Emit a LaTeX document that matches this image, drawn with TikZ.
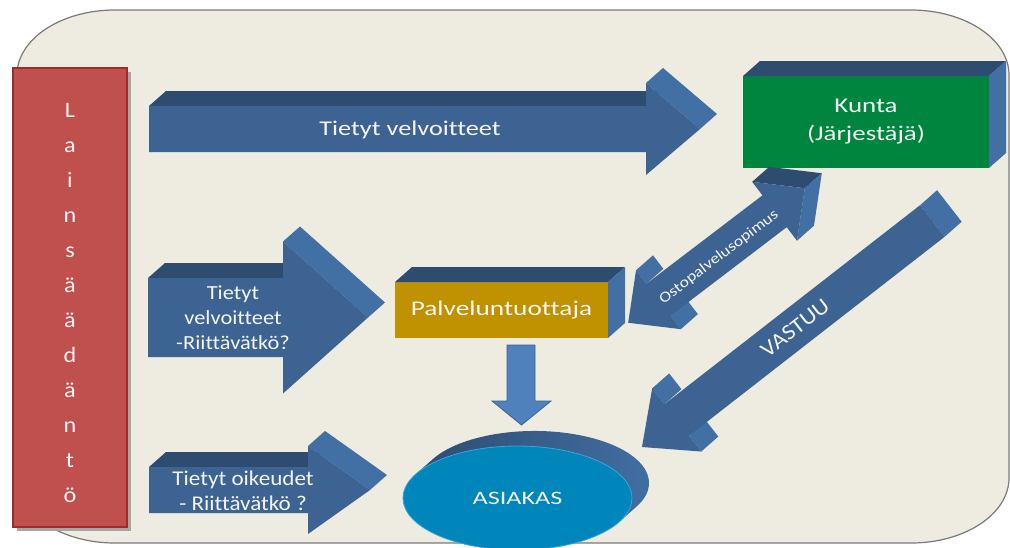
\documentclass[tikz,border=0pt]{standalone}
\usepackage{fontspec}
\setmainfont{Carlito}[Ligatures=NoCommon]
\usetikzlibrary{calc,shapes.geometric}
\definecolor{bgc}{HTML}{EEEBE0}
\definecolor{bordc}{HTML}{7A7A7A}
\definecolor{frontc}{HTML}{3C6391}
\definecolor{topc}{HTML}{2E4C70}
\definecolor{sidec}{HTML}{4270A5}
\definecolor{redc}{HTML}{C0504D}
\definecolor{redl}{HTML}{A02B28}
\definecolor{greenc}{HTML}{00853E}
\definecolor{goldc}{HTML}{C09100}
\definecolor{cyanc}{HTML}{0086BB}
\definecolor{cyanl}{HTML}{33A8DA}
\definecolor{downc}{HTML}{4F81BD}
\definecolor{downl}{HTML}{3A6496}
\definecolor{txt}{HTML}{F4F4F4}
\newcommand\face[3]{\fill[#1] (#2) -- (#3) -- ($(#3)+(17,-15)$) -- ($(#2)+(17,-15)$) -- cycle;}
\newcommand\harrow[7]{%
  \pgfmathsetmacro\yc{(#2+#3)/2}
  \coordinate (#7-a) at (#1,#2);
  \coordinate (#7-b) at (#4,#2);
  \coordinate (#7-c) at (#4,\yc-#5);
  \coordinate (#7-d) at (#6,\yc);
  \coordinate (#7-e) at (#4,\yc+#5);
  \coordinate (#7-f) at (#4,#3);
  \coordinate (#7-g) at (#1,#3);
  \face{topc}{#7-a}{#7-b}
  \face{sidec}{#7-c}{#7-d}
  \fill[frontc] (#7-a) -- (#7-b) -- (#7-c) -- (#7-d) -- (#7-e) -- (#7-f) -- (#7-g) -- cycle;
}
\newcommand\fs[3]{\fontsize{#1}{#2}\selectfont\addfontfeatures{FakeStretch=#3}}
\tikzset{
  lbl/.style={text=txt, align=center, inner sep=0pt},
  letter/.style={text=txt, inner sep=0pt, anchor=base, font=\fs{22}{26}{1.1}},
  boxnode/.style={inner sep=0pt, outer sep=0pt, text=txt, align=center}
}
\begin{document}
\begin{tikzpicture}[x=1pt,y=-1pt]
\useasboundingbox (0,0) rectangle (1010,547);
\clip (0,0) rectangle (1010,547);
% background panel
\draw[bordc, fill=bgc, line width=1.2pt] (115,10) -- (911,10)
  arc[start angle=90, end angle=0, x radius=98pt, y radius=65pt] -- (1009,478)
  arc[start angle=0, end angle=-90, x radius=98pt, y radius=65pt] -- (115,543)
  arc[start angle=-90, end angle=-180, x radius=98pt, y radius=65pt] -- (17,75)
  arc[start angle=180, end angle=90, x radius=98pt, y radius=65pt] -- cycle;
% legislation box
\fill[black!35] (17,72) rectangle (131,531);
\node[draw=redl, fill=redc, line width=1.5pt, minimum width=114pt, minimum height=459pt, inner sep=0pt] (laki) at (70,297.5) {};
\foreach \ch [count=\i from 0] in {L,a,i,n,s,ä,ä,d,ä,n,t,ö}
  \node[letter] (l\i) at (70,117+35*\i) {\ch};
% horizontal 3D arrows
\harrow{149}{106}{152}{646}{46}{700}{a1}
\harrow{148}{278}{357}{283}{76}{368}{a2}
\harrow{149}{467}{513}{308}{44}{370}{a3}
\node[lbl, font=\fs{21}{25}{1.25}] (t1) at (410,130) {Tietyt velvoitteet};
\node[lbl, font=\fs{20}{25}{1.12}] (t2) at (233,318) {Tietyt\\velvoitteet\\-Riittävätkö?};
\node[lbl, font=\fs{21}{25}{1.1}] (t3) at (243,491) {Tietyt oikeudet\\- Riittävätkö ?};
% Kunta box
\node[boxnode, fill=greenc, minimum width=246pt, minimum height=92pt, font=\fs{21}{28}{1.28}] (kunta) at (866,122) {Kunta\\(Järjestäjä)};
\face{topc}{kunta.north west}{kunta.north east}
\face{sidec}{kunta.north east}{kunta.south east}
% Palveluntuottaja box
\node[boxnode, fill=goldc, minimum width=213pt, minimum height=56pt, font=\fs{21}{25}{1.3}] (palv) at (501.5,310) {Palveluntuottaja};
\face{topc}{palv.north west}{palv.north east}
\face{sidec}{palv.north east}{palv.south east}
% Ostopalvelusopimus double arrow
\begin{scope}[shift={(716.5,255.5)}, rotate=37.3, y=1pt]
  \coordinate (o1) at (111,0);
  \coordinate (o2) at (73,37);
  \coordinate (o3) at (73,20);
  \coordinate (o4) at (-73,20);
  \coordinate (o5) at (-73,37);
  \coordinate (o6) at (-111,0);
  \coordinate (o7) at (-73,-37);
  \coordinate (o8) at (-73,-20);
  \coordinate (o9) at (73,-20);
  \coordinate (o10) at (73,-37);
\end{scope}
\face{topc}{o1}{o2}
\face{sidec}{o10}{o1}
\face{sidec}{o4}{o5}
\face{sidec}{o7}{o8}
\fill[frontc] (o1) -- (o2) -- (o3) -- (o4) -- (o5) -- (o6) -- (o7) -- (o8) -- (o9) -- (o10) -- cycle;
\node[lbl, font=\fs{15}{18}{1.18}, rotate=37.3] (osto) at (719,257) {Ostopalvelusopimus};
% VASTUU arrow
\begin{scope}[shift={(642,447)}, rotate=37.9, y=1pt]
  \coordinate (v1) at (0,0);
  \coordinate (v2) at (44,40);
  \coordinate (v3) at (44,20);
  \coordinate (v4) at (368,20);
  \coordinate (v5) at (368,-20);
  \coordinate (v6) at (44,-20);
  \coordinate (v7) at (44,-40);
\end{scope}
\face{sidec}{v2}{v3}
\face{sidec}{v4}{v5}
\face{sidec}{v6}{v7}
\fill[frontc] (v1) -- (v2) -- (v3) -- (v4) -- (v5) -- (v6) -- (v7) -- cycle;
\node[lbl, font=\fs{22}{26}{1.1}, rotate=37.9] (vastuu) at (795,328) {VASTUU};
% down arrow
\fill[downc, draw=downl, line width=0.8pt] (507,345) -- (535,345) -- (535,401) -- (551,401) -- (521.5,425) -- (492,401) -- (507,401) -- cycle;
% ASIAKAS cylinder
\shade[left color=topc, right color=sidec] (414.5,475.3) -- (431.5,460.3)
  arc[start angle=154.15, end angle=-25.85, x radius=114.5pt, y radius=52pt] -- (620.5,520.7) -- cycle;
\node[ellipse, fill=cyanc, draw=cyanl, line width=0.8pt, minimum width=229pt, minimum height=104pt, inner sep=0pt, text=txt, font=\fs{19}{22}{1.38}] (asiakas) at (517.5,498) {ASIAKAS};
\end{tikzpicture}
\end{document}
